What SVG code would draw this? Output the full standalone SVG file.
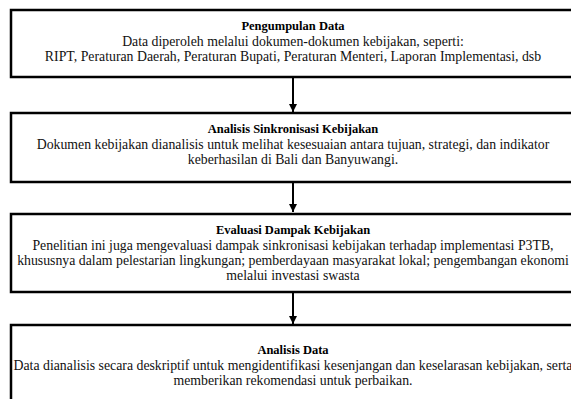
<svg xmlns="http://www.w3.org/2000/svg" width="571" height="399" viewBox="0 0 571 399">
<defs>
<style>
.nodebox{fill:#fff;stroke:#000;stroke-width:2.5}
.ttl{font-weight:bold;font-size:12.5px;fill:#000;text-anchor:middle}
.txt{font-size:13.8px;fill:#111;text-anchor:middle}
.conn{stroke:#000;stroke-width:2;fill:none}
</style>
<marker id="ah" viewBox="0 0 10 10" refX="10" refY="5" markerWidth="4" markerHeight="4" orient="auto" markerUnits="strokeWidth">
<path d="M0,0 L10,5 L0,10 z" fill="#000"/>
</marker>
</defs>
<rect width="571" height="399" fill="#fff"/>
<g id="connectors">
<line class="conn" x1="293" y1="77" x2="293" y2="112" marker-end="url(#ah)"/>
<line class="conn" x1="293" y1="182" x2="293" y2="212" marker-end="url(#ah)"/>
<line class="conn" x1="293" y1="292" x2="293" y2="324" marker-end="url(#ah)"/>
</g>
<g id="node1">
<rect class="nodebox" x="11" y="10" width="575" height="67"/>
<text class="ttl" x="293" y="30" font-family="Liberation Serif" style="font-family:'Liberation Serif',serif">Pengumpulan Data</text>
<text class="txt" x="293" y="46" font-family="Liberation Serif" style="font-family:'Liberation Serif',serif">Data diperoleh melalui dokumen-dokumen kebijakan, seperti:</text>
<text class="txt" x="293" y="61" font-family="Liberation Serif" style="font-family:'Liberation Serif',serif">RIPT, Peraturan Daerah, Peraturan Bupati, Peraturan Menteri, Laporan Implementasi, dsb</text>
</g>
<g id="node2">
<rect class="nodebox" x="11" y="113" width="575" height="69"/>
<text class="ttl" x="293" y="133" font-family="Liberation Serif" style="font-family:'Liberation Serif',serif">Analisis Sinkronisasi Kebijakan</text>
<text class="txt" x="293" y="149" font-family="Liberation Serif" style="font-family:'Liberation Serif',serif">Dokumen kebijakan dianalisis untuk melihat kesesuaian antara tujuan, strategi, dan indikator</text>
<text class="txt" x="293" y="164" font-family="Liberation Serif" style="font-family:'Liberation Serif',serif">keberhasilan di Bali dan Banyuwangi.</text>
</g>
<g id="node3">
<rect class="nodebox" x="11" y="214" width="575" height="78"/>
<text class="ttl" x="293" y="234" font-family="Liberation Serif" style="font-family:'Liberation Serif',serif">Evaluasi Dampak Kebijakan</text>
<text class="txt" x="293" y="250" font-family="Liberation Serif" style="font-family:'Liberation Serif',serif">Penelitian ini juga mengevaluasi dampak sinkronisasi kebijakan terhadap implementasi P3TB,</text>
<text class="txt" x="293" y="265" font-family="Liberation Serif" style="font-family:'Liberation Serif',serif">khususnya dalam pelestarian lingkungan; pemberdayaan masyarakat lokal; pengembangan ekonomi</text>
<text class="txt" x="293" y="280" font-family="Liberation Serif" style="font-family:'Liberation Serif',serif">melalui investasi swasta</text>
</g>
<g id="node4">
<rect class="nodebox" x="11" y="325" width="575" height="90"/>
<text class="ttl" x="293" y="354" font-family="Liberation Serif" style="font-family:'Liberation Serif',serif">Analisis Data</text>
<text class="txt" x="293" y="370" font-family="Liberation Serif" style="font-family:'Liberation Serif',serif">Data dianalisis secara deskriptif untuk mengidentifikasi kesenjangan dan keselarasan kebijakan, serta</text>
<text class="txt" x="293" y="385" font-family="Liberation Serif" style="font-family:'Liberation Serif',serif">memberikan rekomendasi untuk perbaikan.</text>
</g>
</svg>
